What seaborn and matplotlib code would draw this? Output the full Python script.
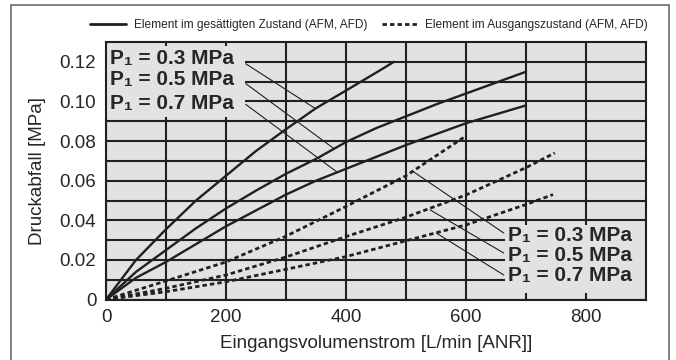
import numpy as np
import pandas as pd
import matplotlib.pyplot as plt
import seaborn as sns
from matplotlib.lines import Line2D
from matplotlib.patches import Rectangle

# Kennlinien
x_s03 = [0, 50, 100, 150, 200, 250, 300, 350, 400, 450, 480]
y_s03 = [0, 0.020, 0.0355, 0.050, 0.0625, 0.075, 0.086, 0.0966, 0.1055, 0.1145, 0.120]
x_s05 = [0, 50, 100, 150, 200, 250, 300, 350, 400, 450, 500, 550, 600, 650, 700]
y_s05 = [0, 0.014, 0.025, 0.036, 0.046, 0.055, 0.0635, 0.071, 0.0795, 0.0865, 0.0925, 0.0985, 0.104, 0.1095, 0.115]
x_s07 = [0, 50, 100, 150, 200, 250, 300, 350, 400, 450, 500, 550, 600, 650, 700]
y_s07 = [0, 0.011, 0.019, 0.028, 0.037, 0.045, 0.053, 0.060, 0.066, 0.072, 0.078, 0.0835, 0.089, 0.0935, 0.098]

x_d03 = [0, 100, 200, 300, 400, 500, 597]
y_d03 = [0, 0.0094, 0.019, 0.032, 0.047, 0.0625, 0.082]
x_d05 = [0, 100, 200, 300, 400, 500, 600, 700, 748]
y_d05 = [0, 0.0057, 0.0124, 0.0215, 0.0318, 0.0416, 0.0528, 0.0666, 0.074]
x_d07 = [0, 100, 200, 300, 400, 500, 600, 700, 745]
y_d07 = [0, 0.004, 0.009, 0.0153, 0.0217, 0.0297, 0.0377, 0.048, 0.053]

labels_p = ['P\u2081 = 0.3 MPa', 'P\u2081 = 0.5 MPa', 'P\u2081 = 0.7 MPa']
legend_labels = ['Element im gesättigten Zustand (AFM, AFD)',
                 'Element im Ausgangszustand (AFM, AFD)']

sns.set_style("white")
plt.rcParams['font.family'] = ['Liberation Sans', 'DejaVu Sans']

ink = '#231f20'
dash = (0, (1.6, 1.1))

fig = plt.figure(figsize=(6.76, 3.6), dpi=100)
ax = fig.add_axes([106 / 676, 1 - 299.6 / 360, 540 / 676, (299.6 - 42) / 360])
ax.set_facecolor('#e1e2e4')

for xs, ys in [(x_s03, y_s03), (x_s05, y_s05), (x_s07, y_s07)]:
    sns.lineplot(x=xs, y=ys, ax=ax, color=ink, lw=1.7, zorder=3)
for xs, ys in [(x_d03, y_d03), (x_d05, y_d05), (x_d07, y_d07)]:
    sns.lineplot(x=xs, y=ys, ax=ax, color=ink, lw=2.0, linestyle=dash, zorder=3)

ax.set_xlim(0, 900)
ax.set_ylim(0, 0.13)
ax.set_xticks(np.arange(0, 801, 200))
ax.set_xticks(np.arange(100, 900, 100), minor=True)
ax.set_yticks(np.arange(0, 0.121, 0.02))
ax.set_yticks(np.arange(0.01, 0.13, 0.01), minor=True)
ax.set_yticklabels(['0', '0.02', '0.04', '0.06', '0.08', '0.10', '0.12'])
ax.grid(which='both', color=ink, lw=1.5)
ax.set_axisbelow(True)
ax.tick_params(which='both', length=0, labelsize=13.5, pad=7)
for sp in ax.spines.values():
    sp.set_color(ink)
    sp.set_linewidth(1.5)
    sp.set_zorder(5)

ax.set_xlabel('Eingangsvolumenstrom [L/min [ANR]]', fontsize=13.5, labelpad=6)
ax.set_ylabel('Druckabfall [MPa]', fontsize=13.5, labelpad=10)

# Beschriftungsfelder
ax.add_patch(Rectangle((0, 0.0922), 232, 0.0358, facecolor='#e1e2e4', edgecolor='none', zorder=1.5))
ax.add_patch(Rectangle((665, 0.0033), 235, 0.0343, facecolor='#e1e2e4', edgecolor='none', zorder=1.5))

for lab, y in zip(labels_p, [0.1218, 0.1109, 0.099]):
    ax.text(6, y, lab, fontsize=15, fontweight='bold', va='center', ha='left', zorder=4)
for lab, y in zip(labels_p, [0.0323, 0.0222, 0.0121]):
    ax.text(670, y, lab, fontsize=15, fontweight='bold', va='center', ha='left', zorder=4)

# Hinweislinien
for (x0, y0), (x1, y1) in [((233, 0.119), (348, 0.0966)),
                           ((233, 0.109), (379, 0.0764)),
                           ((233, 0.0985), (384, 0.0646)),
                           ((512, 0.0646), (663, 0.0336)),
                           ((540, 0.0453), (663, 0.0235)),
                           ((551, 0.0335), (663, 0.0124))]:
    ax.plot([x0, x1], [y0, y1], color=ink, lw=0.8, zorder=3)

handles = [Line2D([], [], color=ink, lw=2.0),
           Line2D([], [], color=ink, lw=2.0, linestyle=dash)]
fig.legend(handles, legend_labels, loc='center', bbox_to_anchor=(0.546, 0.93), ncol=2,
           frameon=False, handlelength=3.0, handletextpad=0.67, columnspacing=1.2,
           prop={'family': ['Liberation Sans'], 'size': 8.6})

fig.patches.append(Rectangle((11 / 676, -0.05), 658 / 676, 1.05 - 5 / 360, transform=fig.transFigure,
                             fill=False, edgecolor='#6d6d6d', lw=1.2))

fig.savefig('out.png', dpi=100)
